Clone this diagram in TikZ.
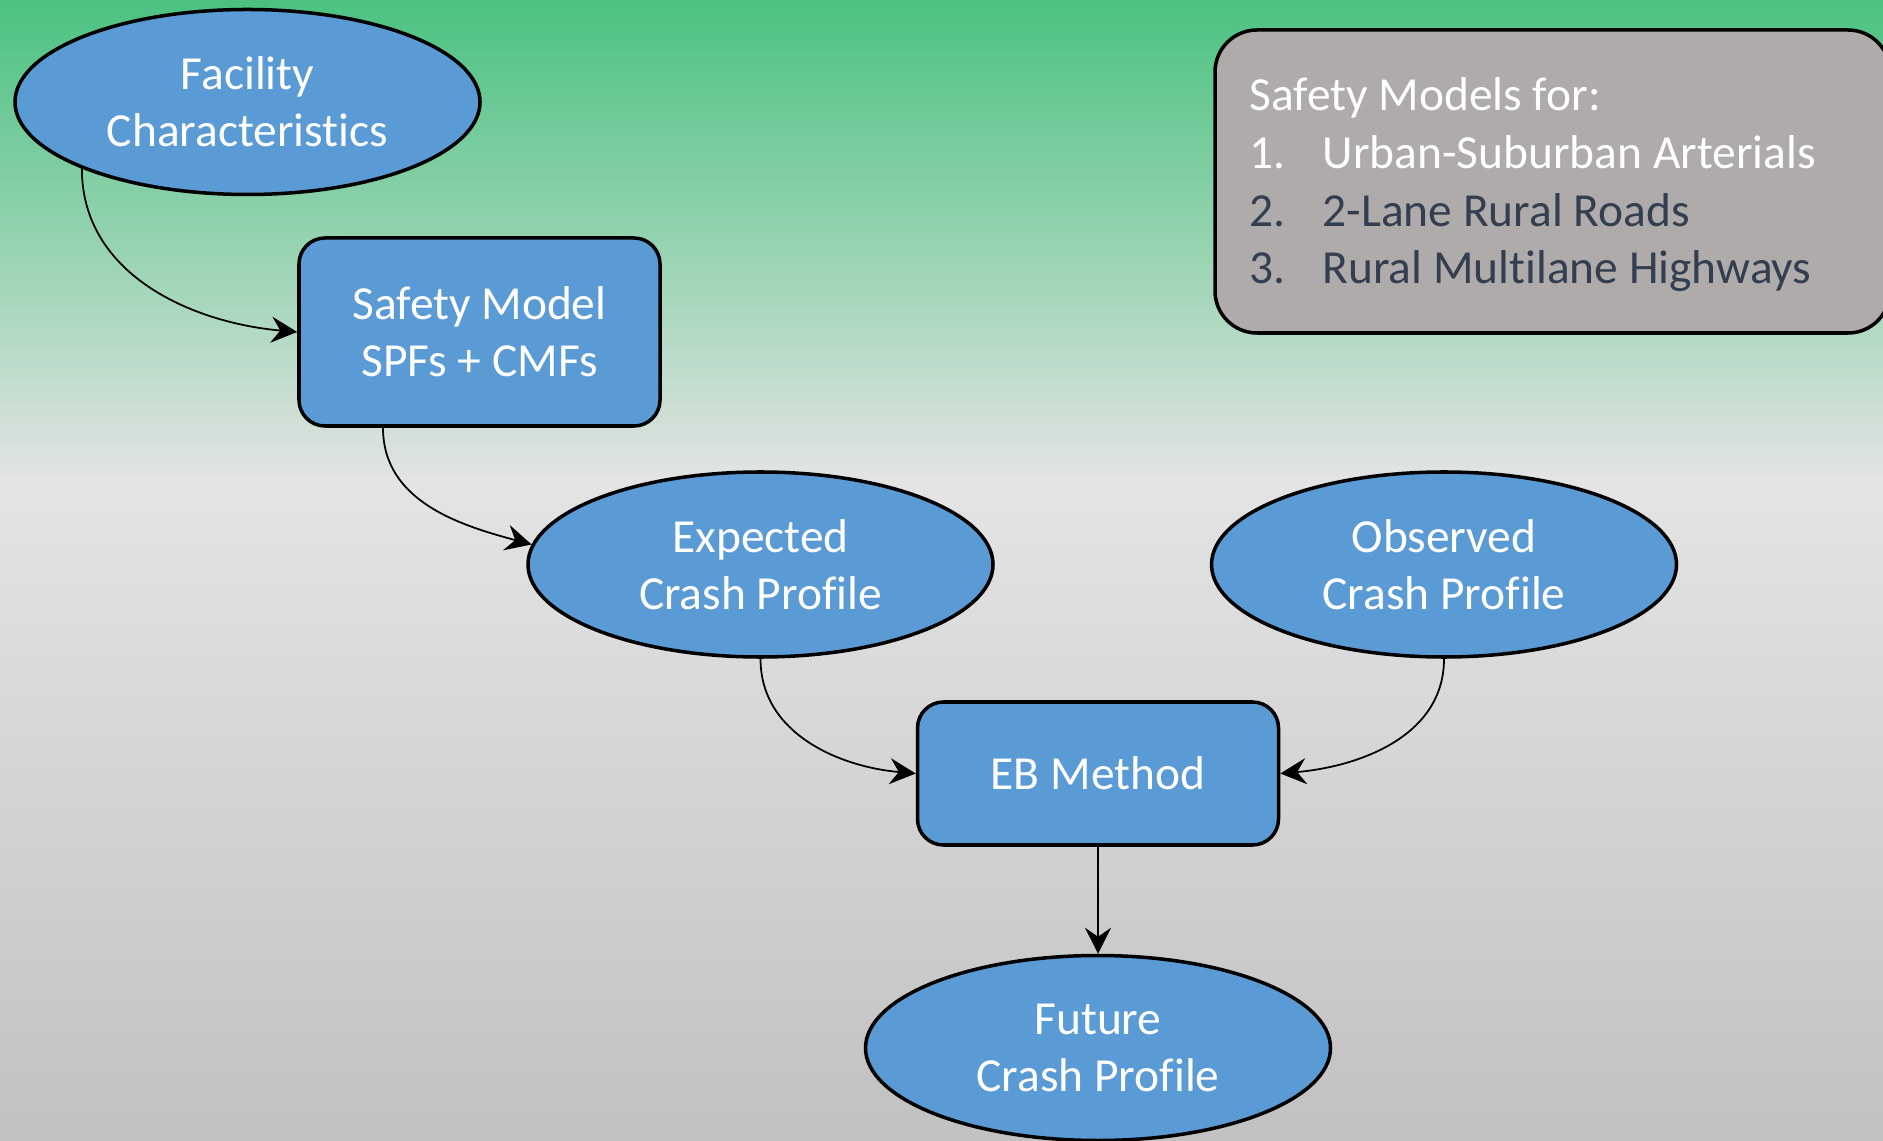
\documentclass[tikz,border=0pt]{standalone}
\usepackage{fontspec}
\setmainfont{Carlito}[Ligatures=NoCommon]
\usepackage{xcolor}
\usepackage{tikz}
\usetikzlibrary{shapes.geometric,arrows.meta,calc,positioning}
\definecolor{nodeblue}{HTML}{5B9BD5}
\definecolor{boxgray}{HTML}{AFABAB}
\definecolor{listdark}{HTML}{333F50}
\definecolor{bggreen}{HTML}{4BC281}
\definecolor{bgmint}{HTML}{A8D7BC}
\definecolor{bglight}{HTML}{E4E4E4}
\definecolor{bggray}{HTML}{C1C1C1}
% green top fading into light then darker gray
\pgfdeclareverticalshading{backdrop}{100bp}{color(0bp)=(bggray); color(25bp)=(bggray); color(53.9bp)=(bglight); color(61.8bp)=(bgmint); color(75bp)=(bggreen); color(100bp)=(bggreen)}

\begin{document}
\begin{tikzpicture}[line cap=round, line join=round,
    every node/.style={font=\fontsize{13.5pt}{16.2pt}\selectfont},
    oval/.style={ellipse, draw, line width=1pt, fill=nodeblue, text=white,
      minimum width=4.65cm, minimum height=1.85cm, inner sep=0pt, align=center},
    stage/.style={rectangle, rounded corners=0.26cm, draw, line width=1pt,
      fill=nodeblue, text=white, minimum width=3.61cm, inner sep=0pt, align=center},
    link/.style={-{Stealth[length=2.6mm, width=2.6mm, inset=0.9mm]}, line width=0.5pt}]
  % background
  \shade[shading=backdrop] (0,0) rectangle (18.83,11.40);
  \useasboundingbox (0,0) rectangle (18.83,11.40);

  % flow
  \node[oval] (fac) at (2.475,10.38) {Facility\\Characteristics};
  \node[stage, minimum height=1.88cm] (model) at (4.795,8.08) {Safety Model\\SPFs + CMFs};
  \node[oval] (exp) at (7.605,5.755) {Expected\\Crash Profile};
  \node[oval] (obs) at (14.44,5.755) {Observed\\Crash Profile};
  \node[stage, minimum height=1.43cm] (eb) at (10.98,3.665) {EB Method};
  \node[oval] (fut) at (10.98,0.92) {Future\\Crash Profile};

  % list of models, top right
  \draw[line width=1pt, fill=boxgray, rounded corners=0.42cm] (12.15,11.10) rectangle (18.90,8.07);
  \node[anchor=west, align=left, text=white, inner sep=0pt,
    font=\fontsize{13.5pt}{16.4pt}\selectfont] (models) at (12.49,9.55)
    {Safety Models for:\\
     \makebox[0.73cm][l]{1.}Urban-Suburban Arterials\\
     \textcolor{listdark}{\makebox[0.73cm][l]{2.}2-Lane Rural Roads}\\
     \textcolor{listdark}{\makebox[0.73cm][l]{3.}Rural Multilane Highways}};

  % connectors
  \draw[link] (fac.south west) to[out=-90, in=175] (model.west);
  \draw[link] ([xshift=-0.965cm]model.south) to[out=-90, in=165] (exp.175);
  \draw[link] (exp.south) to[out=-90, in=175] (eb.west);
  \draw[link] (obs.south) to[out=-90, in=5] (eb.east);
  \draw[link] (eb.south) -- (fut.north);
\end{tikzpicture}
\end{document}
